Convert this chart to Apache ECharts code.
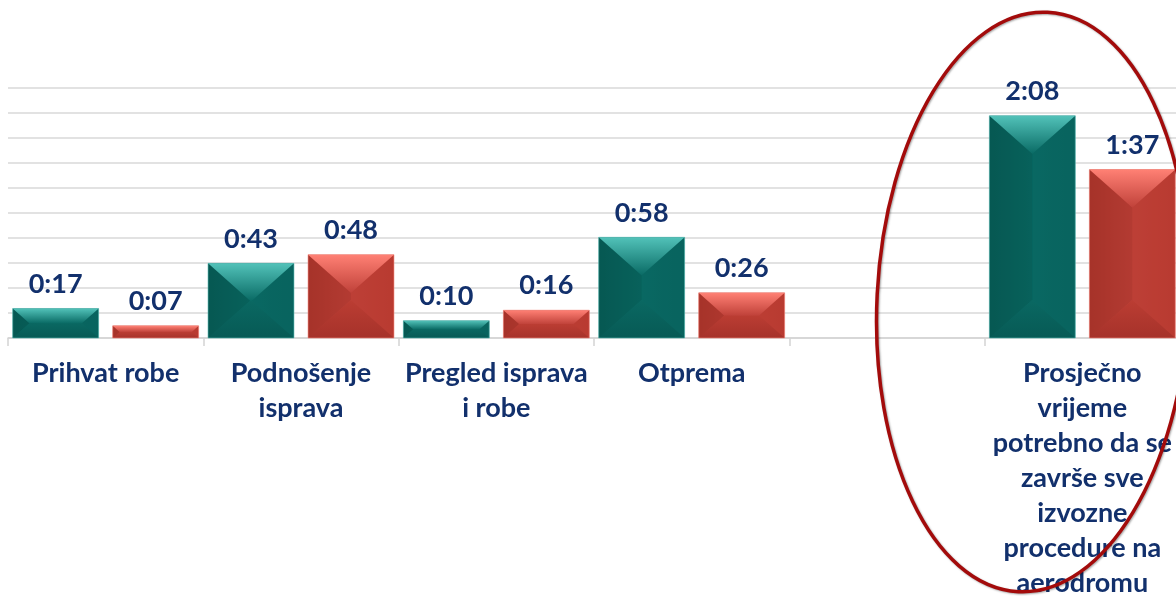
<!DOCTYPE html>
<html lang="hr">
<head>
  <meta charset="UTF-8">
  <title>Vrijeme izvoznih procedura</title>
  <script src="https://cdn.jsdelivr.net/npm/echarts@6/dist/echarts.min.js"></script>
  <style>
    html, body { margin: 0; padding: 0; background: #fff; }
    #chart { width: 1176px; height: 596px; }
  </style>
</head>
<body>
<div id="chart"></div>
<script>
  // kategorije (prazna kategorija je razmak prije zadnje grupe)
  const categories = [
    'Prihvat robe',
    'Podnošenje\nisprava',
    'Pregled isprava\ni robe',
    'Otprema',
    '',
    'Prosječno\nvrijeme\npotrebno da se\nzavrše sve\nizvozne\nprocedure na\naerodromu'
  ]
  // vrijednosti u minutama
  const tealValues = [17, 43, 10, 58, null, 128]
  const redValues = [7, 48, 16, 26, null, 97]

  // skala je u Excelu bila u danima: 0.1 dan = 144 min, korak 0.01 dan
  const yMax = 144
  const yStep = 14.4

  const labelColor = '#12306c'

  function fmt(v) {
    const h = Math.floor(v / 60)
    const m = v % 60
    return h + ':' + (m < 10 ? '0' + m : m)
  }

  const palettes = {
    teal: {
      face: ['#075a55', '#0a6b65', '#09635e'],
      top: ['#52c2b9', '#0a6b65'],
      bottom: ['#0a6862', '#075a55'],
      left: '#065650',
      right: '#086560',
      edge: '#5bbdb5'
    },
    red: {
      face: ['#a83329', '#c0423a', '#b93a30'],
      top: ['#ff8074', '#c0423a'],
      bottom: ['#bb3d33', '#a6322a'],
      left: '#a5342b',
      right: '#b93d33',
      edge: '#f58a80'
    }
  }

  function bevelBar(pal, side) {
    return function (params, api) {
      const v = api.value(1)
      if (v == null || isNaN(v)) return
      const base = api.coord([api.value(0), 0])
      const top = api.coord([api.value(0), v])
      const band = api.size([1, 0])[0]
      const w = band * 0.44
      const off = band * 0.256 * side
      const x = base[0] + off - w / 2
      const y = top[1]
      const h = base[1] - top[1]
      const by = Math.min(h / 2, 38)
      const bx = Math.min(w / 2, by * 1.13)
      const G = echarts.graphic.LinearGradient
      return {
        type: 'group',
        children: [
          {
            type: 'rect',
            shape: { x: x, y: y, width: w, height: h },
            style: { fill: new G(0, 0, 1, 0, [
              { offset: 0, color: pal.face[0] },
              { offset: 0.5, color: pal.face[1] },
              { offset: 1, color: pal.face[2] }
            ]) }
          },
          {
            type: 'polygon',
            shape: { points: [[x, y], [x + bx, y + by], [x + bx, y + h - by], [x, y + h]] },
            style: { fill: pal.left, opacity: 0.45 }
          },
          {
            type: 'polygon',
            shape: { points: [[x + w, y], [x + w - bx, y + by], [x + w - bx, y + h - by], [x + w, y + h]] },
            style: { fill: pal.right, opacity: 0.4 }
          },
          {
            type: 'polygon',
            shape: { points: [[x, y + h], [x + bx, y + h - by], [x + w - bx, y + h - by], [x + w, y + h]] },
            style: { fill: new G(0, 0, 0, 1, [
              { offset: 0, color: pal.bottom[0] },
              { offset: 1, color: pal.bottom[1] }
            ]) }
          },
          {
            type: 'polygon',
            shape: { points: [[x, y], [x + w, y], [x + w - bx, y + by], [x + bx, y + by]] },
            style: { fill: new G(0, 0, 0, 1, [
              { offset: 0, color: pal.top[0] },
              { offset: 1, color: pal.top[1] }
            ]) }
          },
          {
            type: 'rect',
            shape: { x: x, y: y, width: w, height: h },
            style: { fill: 'none', stroke: pal.edge, lineWidth: 1, opacity: 0.6 }
          },
          {
            type: 'text',
            x: x + w / 2,
            y: y - 11,
            style: {
              text: fmt(v),
              align: 'center',
              verticalAlign: 'bottom',
              fill: labelColor,
              font: 'bold 27px Lato, "Open Sans", sans-serif'
            }
          }
        ]
      }
    }
  }

  const toData = arr => arr.map((v, i) => [i, v])

  const chart = echarts.init(document.getElementById('chart'))
  chart.setOption({
    animation: false,
    backgroundColor: '#ffffff',
    grid: { left: 8, top: 88, width: 1172, height: 250, outerBoundsMode: 'none', containLabel: false },
    xAxis: {
      type: 'category',
      data: categories,
      axisLine: { lineStyle: { color: '#d4d4d4', width: 1.5 } },
      axisTick: { show: true, length: 8, lineStyle: { color: '#d4d4d4', width: 1.5 } },
      axisLabel: {
        interval: 0,
        margin: 18,
        color: labelColor,
        fontFamily: 'Lato, "Open Sans", sans-serif',
        fontWeight: 'bold',
        fontSize: 27,
        lineHeight: 35,
        align: 'center',
        hideOverlap: false
      }
    },
    yAxis: {
      type: 'value',
      min: 0,
      max: yMax,
      interval: yStep,
      axisLabel: { show: false },
      axisLine: { show: false },
      axisTick: { show: false },
      splitLine: { lineStyle: { color: '#d9d9d9', width: 1.5 } }
    },
    series: [
      {
        type: 'custom',
        name: 'teal',
        renderItem: bevelBar(palettes.teal, -1),
        data: toData(tealValues),
        clip: false
      },
      {
        type: 'custom',
        name: 'red',
        renderItem: bevelBar(palettes.red, 1),
        data: toData(redValues),
        clip: false
      }
    ],
    graphic: [
      {
        type: 'ellipse',
        x: 1033,
        y: 302,
        rotation: -0.05,
        z: 100,
        shape: { cx: 0, cy: 0, rx: 156, ry: 290 },
        style: {
          fill: 'none',
          stroke: '#a30b0b',
          lineWidth: 3.5,
          shadowColor: 'rgba(0,0,0,0.35)',
          shadowBlur: 2,
          shadowOffsetX: 1,
          shadowOffsetY: 1
        }
      }
    ]
  })
</script>
</body>
</html>
